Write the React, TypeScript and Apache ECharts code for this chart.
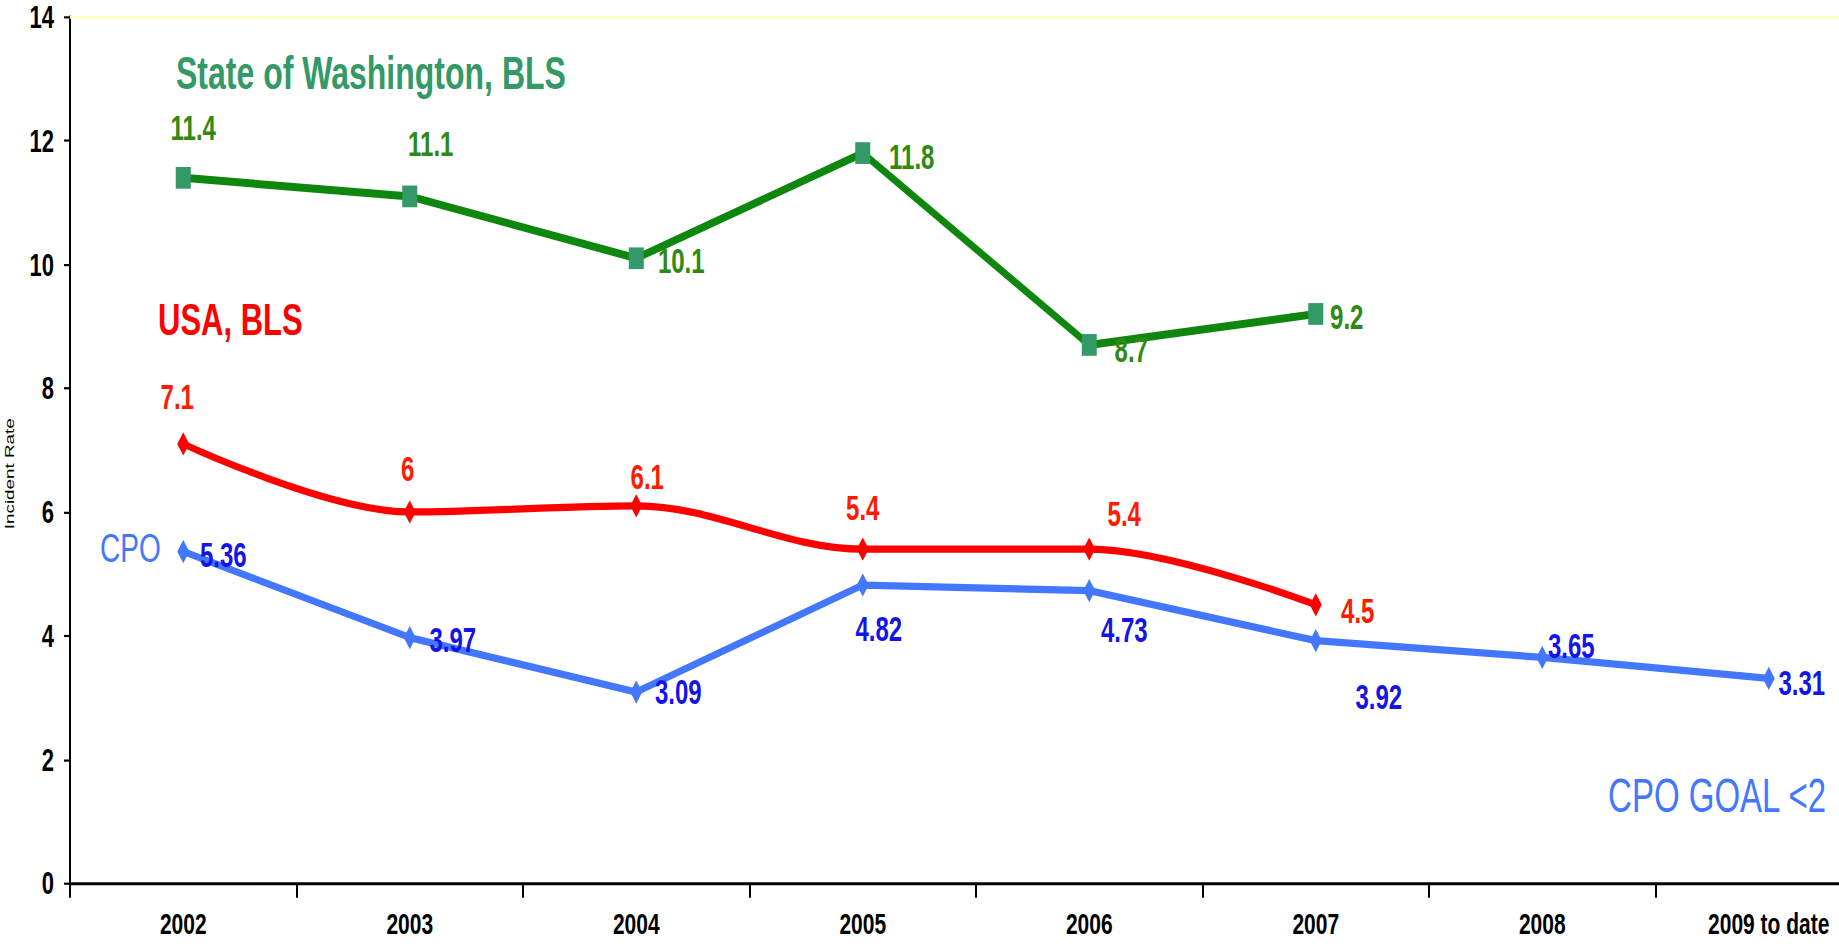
import React, { useEffect, useRef } from "react";
import * as echarts from "echarts";

const categories = ["2002", "2003", "2004", "2005", "2006", "2007", "2008", "2009 to date"];
const washington = [11.4, 11.1, 10.1, 11.8, 8.7, 9.2];
const usa = [7.1, 6, 6.1, 5.4, 5.4, 4.5];
const cpo = [5.36, 3.97, 3.09, 4.82, 4.73, 3.92, 3.65, 3.31];
const yMin = 0;
const yMax = 14;
const yInterval = 2;

// label centre offsets from each point (chart units)
const washingtonLabelOffsets = [[10, -34.6], [21, -36.4], [45, 1.4], [49, 2.5], [42, 3.4], [31, 2]];
const usaLabelOffsets = [[-6, -32.7], [-2, -29.7], [11, -19.9], [0, -28.4], [35, -24.5], [42, 4]];
const cpoLabelOffsets = [[40, 2], [43, 1.5], [42, 0], [16, 30], [35, 27], [63, 39], [29, -8], [33, 3]];

const PAGE_W = 1839;
const PAGE_H = 946;
const W = 1900;
const H = 653;
const SCALE = PAGE_H / H;
const FONT = "'Liberation Sans', Arial, Helvetica, sans-serif";

function withLabels(values: number[], offsets: number[][]) {
  return values.map((v, i) => ({ value: v, label: { offset: offsets[i] } }));
}

export default function App() {
  const ref = useRef<HTMLDivElement>(null);

  useEffect(() => {
    if (!ref.current) return;
    const chart = echarts.init(ref.current, null, { renderer: "svg", width: W, height: H });
    const labelBase = {
      show: true,
      position: "inside",
      fontSize: 24,
      fontWeight: "bold",
      fontFamily: FONT,
      textBorderWidth: 0,
    };
    chart.setOption({
      animation: false,
      backgroundColor: "#ffffff",
      grid: { left: 70, top: 11.7, width: 1812, height: 598, containLabel: false },
      xAxis: [
        {
          type: "category",
          data: categories,
          boundaryGap: true,
          position: "bottom",
          axisLine: { show: true, lineStyle: { color: "#000", width: 2 } },
          axisTick: { show: true, length: 10, lineStyle: { color: "#000", width: 2 } },
          axisLabel: {
            color: "#000",
            fontSize: 21,
            lineHeight: 20,
            fontWeight: "bold",
            fontFamily: FONT,
            margin: 18,
            interval: 0,
          },
          splitLine: { show: false },
        },
        {
          type: "category",
          data: categories,
          position: "top",
          axisLine: { show: true, lineStyle: { color: "#FFFFC4", width: 2 } },
          axisTick: { show: false },
          axisLabel: { show: false },
          splitLine: { show: false },
        },
      ],
      yAxis: {
        type: "value",
        min: yMin,
        max: yMax,
        interval: yInterval,
        axisLine: { show: true, lineStyle: { color: "#000", width: 2 } },
        axisTick: { show: true, length: 6, lineStyle: { color: "#000", width: 1.5 } },
        axisLabel: {
          color: "#000",
          fontSize: 22,
          fontWeight: "bold",
          fontFamily: FONT,
          margin: 16,
        },
        splitLine: { show: false },
      },
      graphic: [
        {
          type: "text",
          x: 176,
          y: 50,
          style: {
            text: "State of Washington, BLS",
            fill: "#339966",
            fontSize: 32,
            fontWeight: "bold",
            fontFamily: FONT,
            align: "left",
            verticalAlign: "middle",
          },
        },
        {
          type: "text",
          x: 158,
          y: 220.7,
          style: {
            text: "USA, BLS",
            fill: "#FF0000",
            fontSize: 31,
            fontWeight: "bold",
            fontFamily: FONT,
            align: "left",
            verticalAlign: "middle",
          },
        },
        {
          type: "text",
          x: 100,
          y: 378,
          style: {
            text: "CPO",
            fill: "#4477FF",
            fontSize: 28,
            fontFamily: FONT,
            align: "left",
            verticalAlign: "middle",
          },
        },
        {
          type: "text",
          x: 1826,
          y: 549,
          style: {
            text: "CPO GOAL <2",
            fill: "#4477FF",
            fontSize: 33,
            fontFamily: FONT,
            align: "right",
            verticalAlign: "middle",
          },
        },
        {
          type: "text",
          x: 9,
          y: 327,
          rotation: Math.PI / 2,
          style: {
            text: "Incident Rate",
            fill: "#000",
            fontSize: 13,
            fontFamily: FONT,
            align: "center",
            verticalAlign: "middle",
          },
        },
      ],
      series: [
        {
          name: "State of Washington, BLS",
          type: "line",
          data: withLabels(washington, washingtonLabelOffsets),
          symbol: "rect",
          symbolSize: 15,
          showAllSymbol: true,
          lineStyle: { color: "#0F870F", width: 5.5 },
          itemStyle: { color: "#339966" },
          label: { ...labelBase, color: "#2E8A12" },
          z: 3,
        },
        {
          name: "USA, BLS",
          type: "line",
          data: withLabels(usa, usaLabelOffsets),
          smooth: 0.35,
          symbol: "diamond",
          symbolSize: [12, 16],
          showAllSymbol: true,
          lineStyle: { color: "#FF0000", width: 5 },
          itemStyle: { color: "#FF0000" },
          label: { ...labelBase, color: "#FF1A00" },
          z: 3,
        },
        {
          name: "CPO",
          type: "line",
          data: withLabels(cpo, cpoLabelOffsets),
          symbol: "diamond",
          symbolSize: [12, 16],
          showAllSymbol: true,
          lineStyle: { color: "#4477FF", width: 5 },
          itemStyle: { color: "#4477FF" },
          label: { ...labelBase, color: "#1414E6" },
          z: 3,
        },
      ],
    });
    return () => chart.dispose();
  }, []);

  return (
    <div
      style={{
        position: "absolute",
        left: 0,
        top: 0,
        width: PAGE_W,
        height: PAGE_H,
        overflow: "hidden",
        background: "#fff",
      }}
    >
      <div
        ref={ref}
        style={{
          width: W,
          height: H,
          transform: `scaleY(${SCALE})`,
          transformOrigin: "0 0",
        }}
      />
    </div>
  );
}
